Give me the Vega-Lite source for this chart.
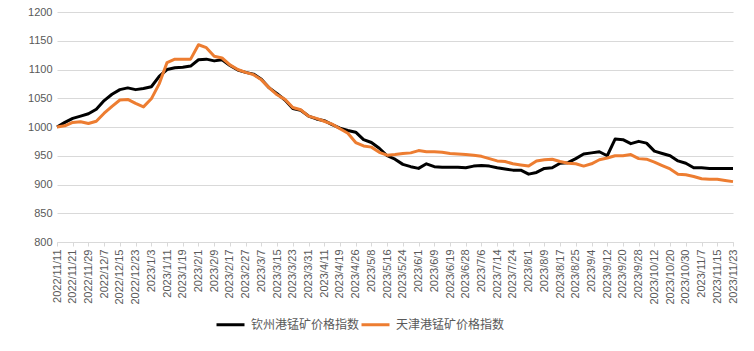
{
  "$schema": "https://vega.github.io/schema/vega-lite/v6.json",
  "width": 676,
  "height": 230,
  "autosize": {"type": "none"},
  "padding": {"left": 57, "top": 12, "right": 21, "bottom": 109},
  "background": "#ffffff",
  "config": {
    "view": {"stroke": null},
    "font": "Liberation Sans"
  },
  "data": {
    "values": [
      {"d": "2022/11/11", "钦州港锰矿价格指数": 1000, "天津港锰矿价格指数": 1000},
      {"d": "2022/11/16", "钦州港锰矿价格指数": 1008, "天津港锰矿价格指数": 1002},
      {"d": "2022/11/21", "钦州港锰矿价格指数": 1015, "天津港锰矿价格指数": 1008},
      {"d": "2022/11/24", "钦州港锰矿价格指数": 1019, "天津港锰矿价格指数": 1009},
      {"d": "2022/11/29", "钦州港锰矿价格指数": 1023, "天津港锰矿价格指数": 1006},
      {"d": "2022/12/2", "钦州港锰矿价格指数": 1031, "天津港锰矿价格指数": 1010},
      {"d": "2022/12/7", "钦州港锰矿价格指数": 1046, "天津港锰矿价格指数": 1024},
      {"d": "2022/12/12", "钦州港锰矿价格指数": 1057, "天津港锰矿价格指数": 1036},
      {"d": "2022/12/15", "钦州港锰矿价格指数": 1065, "天津港锰矿价格指数": 1047},
      {"d": "2022/12/20", "钦州港锰矿价格指数": 1068, "天津港锰矿价格指数": 1048},
      {"d": "2022/12/23", "钦州港锰矿价格指数": 1065, "天津港锰矿价格指数": 1041},
      {"d": "2022/12/28", "钦州港锰矿价格指数": 1067, "天津港锰矿价格指数": 1035},
      {"d": "2023/1/3", "钦州港锰矿价格指数": 1070, "天津港锰矿价格指数": 1049},
      {"d": "2023/1/6", "钦州港锰矿价格指数": 1088, "天津港锰矿价格指数": 1075},
      {"d": "2023/1/11", "钦州港锰矿价格指数": 1100, "天津港锰矿价格指数": 1112},
      {"d": "2023/1/16", "钦州港锰矿价格指数": 1103, "天津港锰矿价格指数": 1118},
      {"d": "2023/1/19", "钦州港锰矿价格指数": 1104, "天津港锰矿价格指数": 1118},
      {"d": "2023/1/29", "钦州港锰矿价格指数": 1106, "天津港锰矿价格指数": 1118},
      {"d": "2023/2/1", "钦州港锰矿价格指数": 1117, "天津港锰矿价格指数": 1143},
      {"d": "2023/2/6", "钦州港锰矿价格指数": 1118, "天津港锰矿价格指数": 1138},
      {"d": "2023/2/9", "钦州港锰矿价格指数": 1115, "天津港锰矿价格指数": 1123},
      {"d": "2023/2/14", "钦州港锰矿价格指数": 1117, "天津港锰矿价格指数": 1120},
      {"d": "2023/2/17", "钦州港锰矿价格指数": 1107, "天津港锰矿价格指数": 1108},
      {"d": "2023/2/22", "钦州港锰矿价格指数": 1099, "天津港锰矿价格指数": 1100},
      {"d": "2023/2/27", "钦州港锰矿价格指数": 1095, "天津港锰矿价格指数": 1095},
      {"d": "2023/3/2", "钦州港锰矿价格指数": 1092, "天津港锰矿价格指数": 1091},
      {"d": "2023/3/7", "钦州港锰矿价格指数": 1083, "天津港锰矿价格指数": 1082},
      {"d": "2023/3/10", "钦州港锰矿价格指数": 1068, "天津港锰矿价格指数": 1068},
      {"d": "2023/3/15", "钦州港锰矿价格指数": 1058, "天津港锰矿价格指数": 1056},
      {"d": "2023/3/20", "钦州港锰矿价格指数": 1047, "天津港锰矿价格指数": 1048},
      {"d": "2023/3/23", "钦州港锰矿价格指数": 1032, "天津港锰矿价格指数": 1034},
      {"d": "2023/3/28", "钦州港锰矿价格指数": 1029, "天津港锰矿价格指数": 1030},
      {"d": "2023/3/31", "钦州港锰矿价格指数": 1019, "天津港锰矿价格指数": 1019},
      {"d": "2023/4/6", "钦州港锰矿价格指数": 1014, "天津港锰矿价格指数": 1015},
      {"d": "2023/4/11", "钦州港锰矿价格指数": 1011, "天津港锰矿价格指数": 1010},
      {"d": "2023/4/14", "钦州港锰矿价格指数": 1004, "天津港锰矿价格指数": 1005},
      {"d": "2023/4/19", "钦州港锰矿价格指数": 998, "天津港锰矿价格指数": 997},
      {"d": "2023/4/24", "钦州港锰矿价格指数": 994, "天津港锰矿价格指数": 989},
      {"d": "2023/4/26", "钦州港锰矿价格指数": 991, "天津港锰矿价格指数": 973},
      {"d": "2023/5/4", "钦州港锰矿价格指数": 978, "天津港锰矿价格指数": 967},
      {"d": "2023/5/8", "钦州港锰矿价格指数": 973, "天津港锰矿价格指数": 965},
      {"d": "2023/5/11", "钦州港锰矿价格指数": 963, "天津港锰矿价格指数": 956},
      {"d": "2023/5/16", "钦州港锰矿价格指数": 950, "天津港锰矿价格指数": 951},
      {"d": "2023/5/19", "钦州港锰矿价格指数": 944, "天津港锰矿价格指数": 952},
      {"d": "2023/5/24", "钦州港锰矿价格指数": 935, "天津港锰矿价格指数": 954},
      {"d": "2023/5/29", "钦州港锰矿价格指数": 931, "天津港锰矿价格指数": 955},
      {"d": "2023/6/1", "钦州港锰矿价格指数": 928, "天津港锰矿价格指数": 959},
      {"d": "2023/6/6", "钦州港锰矿价格指数": 936, "天津港锰矿价格指数": 957},
      {"d": "2023/6/9", "钦州港锰矿价格指数": 931, "天津港锰矿价格指数": 957},
      {"d": "2023/6/14", "钦州港锰矿价格指数": 930, "天津港锰矿价格指数": 956},
      {"d": "2023/6/19", "钦州港锰矿价格指数": 930, "天津港锰矿价格指数": 954},
      {"d": "2023/6/25", "钦州港锰矿价格指数": 930, "天津港锰矿价格指数": 953},
      {"d": "2023/6/28", "钦州港锰矿价格指数": 929, "天津港锰矿价格指数": 952},
      {"d": "2023/7/3", "钦州港锰矿价格指数": 932, "天津港锰矿价格指数": 951},
      {"d": "2023/7/6", "钦州港锰矿价格指数": 933, "天津港锰矿价格指数": 949},
      {"d": "2023/7/11", "钦州港锰矿价格指数": 932, "天津港锰矿价格指数": 945},
      {"d": "2023/7/14", "钦州港锰矿价格指数": 929, "天津港锰矿价格指数": 941},
      {"d": "2023/7/19", "钦州港锰矿价格指数": 927, "天津港锰矿价格指数": 940},
      {"d": "2023/7/24", "钦州港锰矿价格指数": 925, "天津港锰矿价格指数": 936},
      {"d": "2023/7/27", "钦州港锰矿价格指数": 925, "天津港锰矿价格指数": 934},
      {"d": "2023/8/1", "钦州港锰矿价格指数": 918, "天津港锰矿价格指数": 932},
      {"d": "2023/8/4", "钦州港锰矿价格指数": 921, "天津港锰矿价格指数": 941},
      {"d": "2023/8/9", "钦州港锰矿价格指数": 928, "天津港锰矿价格指数": 943},
      {"d": "2023/8/14", "钦州港锰矿价格指数": 929, "天津港锰矿价格指数": 944},
      {"d": "2023/8/17", "钦州港锰矿价格指数": 937, "天津港锰矿价格指数": 940},
      {"d": "2023/8/22", "钦州港锰矿价格指数": 938, "天津港锰矿价格指数": 937},
      {"d": "2023/8/25", "钦州港锰矿价格指数": 945, "天津港锰矿价格指数": 936},
      {"d": "2023/8/30", "钦州港锰矿价格指数": 953, "天津港锰矿价格指数": 932},
      {"d": "2023/9/4", "钦州港锰矿价格指数": 955, "天津港锰矿价格指数": 936},
      {"d": "2023/9/7", "钦州港锰矿价格指数": 957, "天津港锰矿价格指数": 943},
      {"d": "2023/9/12", "钦州港锰矿价格指数": 950, "天津港锰矿价格指数": 946},
      {"d": "2023/9/15", "钦州港锰矿价格指数": 979, "天津港锰矿价格指数": 950},
      {"d": "2023/9/20", "钦州港锰矿价格指数": 978, "天津港锰矿价格指数": 950},
      {"d": "2023/9/25", "钦州港锰矿价格指数": 971, "天津港锰矿价格指数": 952},
      {"d": "2023/9/28", "钦州港锰矿价格指数": 975, "天津港锰矿价格指数": 945},
      {"d": "2023/10/9", "钦州港锰矿价格指数": 972, "天津港锰矿价格指数": 944},
      {"d": "2023/10/12", "钦州港锰矿价格指数": 958, "天津港锰矿价格指数": 939},
      {"d": "2023/10/17", "钦州港锰矿价格指数": 954, "天津港锰矿价格指数": 933},
      {"d": "2023/10/20", "钦州港锰矿价格指数": 950, "天津港锰矿价格指数": 927},
      {"d": "2023/10/25", "钦州港锰矿价格指数": 941, "天津港锰矿价格指数": 918},
      {"d": "2023/10/30", "钦州港锰矿价格指数": 937, "天津港锰矿价格指数": 917},
      {"d": "2023/11/2", "钦州港锰矿价格指数": 929, "天津港锰矿价格指数": 914},
      {"d": "2023/11/7", "钦州港锰矿价格指数": 929, "天津港锰矿价格指数": 910},
      {"d": "2023/11/10", "钦州港锰矿价格指数": 928, "天津港锰矿价格指数": 909},
      {"d": "2023/11/15", "钦州港锰矿价格指数": 928, "天津港锰矿价格指数": 909},
      {"d": "2023/11/20", "钦州港锰矿价格指数": 928, "天津港锰矿价格指数": 907},
      {"d": "2023/11/23", "钦州港锰矿价格指数": 928, "天津港锰矿价格指数": 905}
    ]
  },
  "transform": [
    {"fold": ["钦州港锰矿价格指数", "天津港锰矿价格指数"], "as": ["series", "value"]}
  ],
  "mark": {"type": "line", "strokeWidth": 3, "strokeJoin": "round", "strokeCap": "butt"},
  "encoding": {
    "x": {
      "field": "d",
      "type": "ordinal",
      "sort": null,
      "scale": {"type": "point", "padding": 0},
      "axis": {
        "title": null,
        "values": ["2022/11/11","2022/11/21","2022/11/29","2022/12/7","2022/12/15","2022/12/23","2023/1/3","2023/1/11","2023/1/19","2023/2/1","2023/2/9","2023/2/17","2023/2/27","2023/3/7","2023/3/15","2023/3/23","2023/3/31","2023/4/11","2023/4/19","2023/4/26","2023/5/8","2023/5/16","2023/5/24","2023/6/1","2023/6/9","2023/6/19","2023/6/28","2023/7/6","2023/7/14","2023/7/24","2023/8/1","2023/8/9","2023/8/17","2023/8/25","2023/9/4","2023/9/12","2023/9/20","2023/9/28","2023/10/12","2023/10/20","2023/10/30","2023/11/7","2023/11/15","2023/11/23"],
        "labelAngle": -90,
        "labelAlign": "right",
        "labelBaseline": "middle",
        "labelFontSize": 11,
        "labelColor": "#595959",
        "labelPadding": 3,
        "labelOverlap": false,
        "labelBound": false,
        "labelFlush": false,
        "domainColor": "#D9D9D9",
        "domainWidth": 1,
        "tickColor": "#D9D9D9",
        "tickSize": 4,
        "grid": false
      }
    },
    "y": {
      "field": "value",
      "type": "quantitative",
      "scale": {"domain": [800, 1200], "zero": false, "nice": false},
      "axis": {
        "title": null,
        "format": "d",
        "values": [800, 850, 900, 950, 1000, 1050, 1100, 1150, 1200],
        "domain": false,
        "ticks": false,
        "grid": true,
        "gridColor": "#D9D9D9",
        "gridWidth": 1,
        "labelFontSize": 11,
        "labelColor": "#595959",
        "labelPadding": 5
      }
    },
    "color": {
      "field": "series",
      "type": "nominal",
      "scale": {"domain": ["钦州港锰矿价格指数", "天津港锰矿价格指数"], "range": ["#000000", "#ED7D31"]},
      "legend": {
        "title": null,
        "orient": "none",
        "legendX": 158,
        "legendY": 297,
        "direction": "horizontal",
        "symbolType": "stroke",
        "symbolSize": 784,
        "symbolStrokeWidth": 3,
        "labelFont": "Noto Sans CJK SC",
        "labelFontSize": 12,
        "labelColor": "#595959",
        "labelOffset": 5,
        "columnPadding": -5
      }
    }
  }
}
